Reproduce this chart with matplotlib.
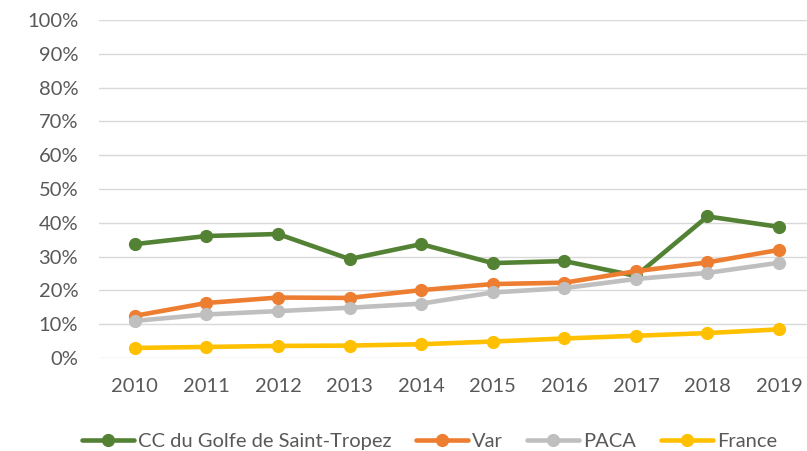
import matplotlib.pyplot as plt
from matplotlib.ticker import PercentFormatter

years = ['2010', '2011', '2012', '2013', '2014', '2015', '2016', '2017', '2018', '2019']
golfe = [33.7, 36.1, 36.7, 29.3, 33.7, 28.1, 28.7, 24.3, 41.9, 38.8]
var = [12.5, 16.3, 17.9, 17.8, 20.1, 21.9, 22.3, 25.7, 28.3, 32.0]
paca = [11.0, 12.9, 13.9, 14.9, 16.1, 19.4, 20.7, 23.4, 25.2, 28.2]
france = [3.0, 3.3, 3.6, 3.7, 4.1, 4.9, 5.8, 6.6, 7.4, 8.5]

series = [
    ('CC du Golfe de Saint-Tropez', golfe, '#548235'),
    ('Var', var, '#ED7D31'),
    ('PACA', paca, '#BFBFBF'),
    ('France', france, '#FFC000'),
]

plt.rcParams['font.family'] = ['Lato', 'DejaVu Sans']

fig = plt.figure(figsize=(8.07, 4.51), dpi=100)
ax = fig.add_axes([99 / 807, 0.206, 708 / 807, 0.7497])

x = list(range(len(years)))
for label, vals, color in series:
    ax.plot(x, vals, color=color, linewidth=3.3, marker='o', markersize=8.5,
            label=label, solid_capstyle='round')

ax.set_xlim(-0.5, 9.39)
ax.set_ylim(0, 100)
ax.set_yticks(range(0, 101, 10))
ax.yaxis.set_major_formatter(PercentFormatter(decimals=0))
ax.set_xticks(x)
ax.set_xticklabels(years)
ax.grid(True, axis='y', color='#D9D9D9', linewidth=1)
ax.set_axisbelow(True)
for s in ax.spines.values():
    s.set_visible(False)
ax.tick_params(length=0, labelsize=14.5, colors='#595959')
ax.tick_params(axis='x', pad=14)
ax.tick_params(axis='y', pad=15)

fig.legend(loc='center', bbox_to_anchor=(0.532, 0.022), ncol=4, frameon=False,
           fontsize=14.5, labelcolor='#595959', handlelength=2.6, columnspacing=1.2,
           handletextpad=0.2)

fig.savefig('out.png', dpi=100)
